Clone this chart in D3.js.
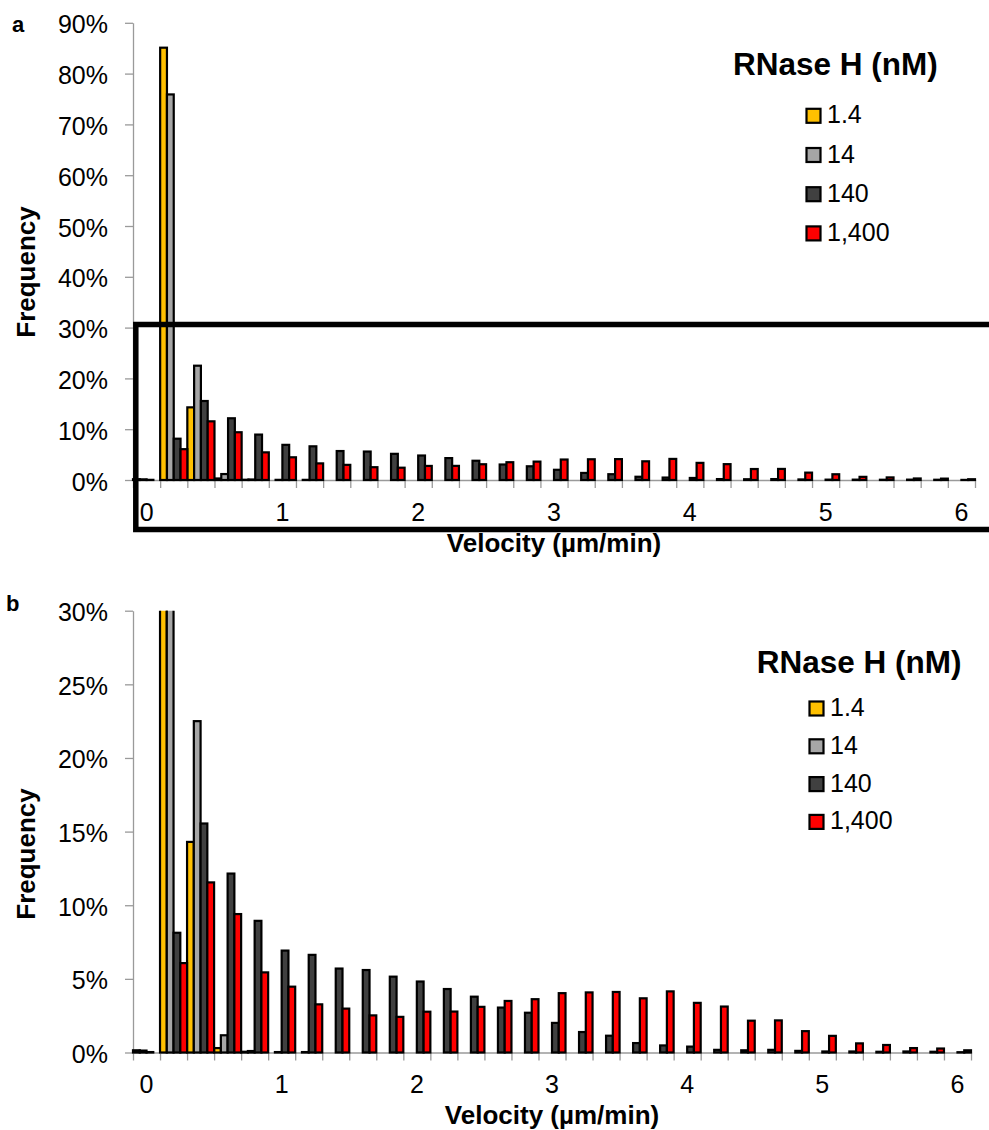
<!DOCTYPE html>
<html>
<head>
<meta charset="utf-8">
<script src="https://cdn.jsdelivr.net/npm/d3@7"></script>
<style>
body { margin: 0; background: #fff; }
svg { display: block; font-family: "Liberation Sans", Arial, sans-serif; }
</style>
</head>
<body>
<svg id="chart" width="989" height="1130"></svg>
<script>
// velocity bins (µm/min), one category per bin
var velocity = [0, 0.2, 0.4, 0.6, 0.8, 1.0, 1.2, 1.4, 1.6, 1.8,
                2.0, 2.2, 2.4, 2.6, 2.8, 3.0, 3.2, 3.4, 3.6, 3.8,
                4.0, 4.2, 4.4, 4.6, 4.8, 5.0, 5.2, 5.4, 5.6, 5.8, 6.0];

// labelled velocities on the x axis
var xTickLabels = [0, 1, 2, 3, 4, 5, 6];

// RNase H concentration (nM)
var seriesNames  = ['1.4', '14', '140', '1,400'];
var seriesColors = ['#FFC000', '#A6A6A6', '#404040', '#FF0000'];

// frequency (%) per velocity bin
var freq1_4  = [0.15, 85.1, 14.3, 0.3, 0.05, 0, 0, 0, 0, 0,
                0, 0, 0, 0, 0, 0, 0, 0, 0, 0,
                0, 0, 0, 0, 0, 0, 0, 0, 0, 0, 0];
var freq14   = [0.13, 75.9, 22.5, 1.17, 0.1, 0.03, 0.03, 0, 0, 0,
                0, 0, 0, 0, 0, 0, 0, 0, 0, 0,
                0, 0, 0, 0, 0, 0, 0, 0, 0, 0, 0];
var freq140  = [0.03, 8.13, 15.55, 12.15, 8.94, 6.92, 6.63, 5.70, 5.60, 5.15,
                4.82, 4.31, 3.79, 3.05, 2.70, 2.01, 1.39, 1.14, 0.64, 0.48,
                0.40, 0.18, 0.15, 0.18, 0.11, 0.07, 0.07, 0.05, 0.07, 0.05, 0.02];
var freq1400 = [0, 6.07, 11.55, 9.40, 5.44, 4.47, 3.27, 2.98, 2.52, 2.42,
                2.77, 2.78, 3.10, 3.50, 3.62, 4.03, 4.08, 4.11, 3.68, 4.15,
                3.37, 3.12, 2.16, 2.18, 1.45, 1.13, 0.62, 0.51, 0.30, 0.27, 0.15];

var yTicksA = [0, 10, 20, 30, 40, 50, 60, 70, 80, 90];
var yTicksB = [0, 5, 10, 15, 20, 25, 30];

var series = [freq1_4, freq14, freq140, freq1400];

var svg = d3.select('#chart');
var axisColor = '#9a9a9a';

function drawPanel(p) {
    var g = svg.append('g');

    var x = d3.scaleBand()
        .domain(d3.range(velocity.length))
        .range([p.left, p.right])
        .padding(0);
    var xSub = d3.scaleBand()
        .domain(d3.range(series.length))
        .range([0, x.bandwidth()])
        .padding(0);
    var xEdge = d3.scaleLinear()
        .domain([0, velocity.length])
        .range([p.left, p.right]);
    var y = d3.scaleLinear()
        .domain([0, p.max])
        .range([p.bottom, p.top]);

    g.append('clipPath').attr('id', p.id + '-clip')
        .append('rect')
        .attr('x', p.left - 5).attr('y', p.top)
        .attr('width', p.right - p.left + 10).attr('height', p.bottom - p.top + 5);

    // axes
    var yAxis = g.append('g')
        .attr('transform', 'translate(' + p.left + ',0)')
        .call(d3.axisLeft(y).tickValues(p.yTicks).tickSize(8).tickSizeOuter(0)
            .tickPadding(17).tickFormat(function(d) { return d + '%'; }));
    yAxis.attr('font-size', 25).attr('font-family', null);
    yAxis.selectAll('line, path').attr('stroke', axisColor).attr('stroke-width', 1.3);
    yAxis.selectAll('text').attr('fill', '#000').attr('dy', '0.4em');

    var xAxis = g.append('g')
        .attr('transform', 'translate(0,' + p.bottom + ')')
        .call(d3.axisBottom(xEdge).tickValues(d3.range(velocity.length + 1))
            .tickSize(8).tickSizeOuter(0).tickFormat(''));
    xAxis.selectAll('line, path').attr('stroke', axisColor).attr('stroke-width', 1.3);

    var xLabels = g.append('g')
        .attr('transform', 'translate(0,' + p.bottom + ')')
        .call(d3.axisBottom(x)
            .tickValues(xTickLabels.map(function(v) { return velocity.indexOf(v); }))
            .tickSize(0).tickPadding(23)
            .tickFormat(function(i) { return velocity[i]; }));
    xLabels.select('.domain').remove();
    xLabels.attr('font-size', 25).attr('font-family', null);
    xLabels.selectAll('text').attr('fill', '#000');

    // bars
    var bars = g.append('g').attr('clip-path', 'url(#' + p.id + '-clip)');
    series.forEach(function(values, j) {
        bars.selectAll('rect.s' + j)
            .data(values.map(function(v, i) { return {i: i, v: v}; })
                .filter(function(d) { return d.v > 0; }))
            .enter().append('rect')
            .attr('class', 's' + j)
            .attr('x', function(d) { return x(d.i) + xSub(j); })
            .attr('width', xSub.bandwidth())
            .attr('y', function(d) { return y(d.v); })
            .attr('height', function(d) { return y(0) - y(d.v); })
            .attr('fill', seriesColors[j])
            .attr('stroke', '#000')
            .attr('stroke-width', 2.2);
    });

    // titles
    g.append('text')
        .attr('transform', 'translate(35,' + p.yTitleY + ') rotate(-90)')
        .attr('text-anchor', 'middle')
        .attr('font-size', 26).attr('font-weight', 'bold')
        .text('Frequency');
    g.append('text')
        .attr('x', (p.left + p.right) / 2)
        .attr('y', p.bottom + 71.5)
        .attr('text-anchor', 'middle')
        .attr('font-size', 26).attr('font-weight', 'bold')
        .text('Velocity (µm/min)');
    g.append('text')
        .attr('x', p.letterX).attr('y', p.letterY)
        .attr('font-size', 22).attr('font-weight', 'bold')
        .text(p.letter);

    // legend
    var lg = g.append('g');
    lg.append('text')
        .attr('x', p.legendTitleX).attr('y', p.legendTitleY)
        .attr('font-size', 31.5).attr('font-weight', 'bold')
        .text('RNase H (nM)');
    var item = lg.selectAll('g.item').data(seriesNames).enter().append('g')
        .attr('class', 'item')
        .attr('transform', function(d, i) {
            return 'translate(' + p.legendX + ',' + (p.legendY + i * p.legendStep) + ')';
        });
    item.append('rect')
        .attr('x', 0).attr('y', -14.5)
        .attr('width', 14).attr('height', 14)
        .attr('fill', function(d, i) { return seriesColors[i]; })
        .attr('stroke', '#000').attr('stroke-width', 2.2);
    item.append('text')
        .attr('x', 20.5).attr('y', 0)
        .attr('font-size', 25)
        .text(function(d) { return d; });

    return g;
}

var a = drawPanel({
    id: 'a', letter: 'a', letterX: 12, letterY: 32,
    left: 133, right: 975, top: 22.8, bottom: 480, max: 90, yTicks: yTicksA,
    yTitleY: 272,
    legendTitleX: 733, legendTitleY: 75,
    legendX: 806.5, legendY: 123.3, legendStep: 39.2
});

// zoom box of panel a
a.append('path')
    .attr('d', 'M1000,324.5H135.8V529.5H1000')
    .attr('fill', 'none')
    .attr('stroke', '#000')
    .attr('stroke-width', 5.5);

drawPanel({
    id: 'b', letter: 'b', letterX: 6, letterY: 610.7,
    left: 133, right: 971, top: 610.7, bottom: 1052.5, max: 30, yTicks: yTicksB,
    yTitleY: 854,
    legendTitleX: 756.7, legendTitleY: 672.7,
    legendX: 809.5, legendY: 716, legendStep: 37.8
});
</script>
</body>
</html>
